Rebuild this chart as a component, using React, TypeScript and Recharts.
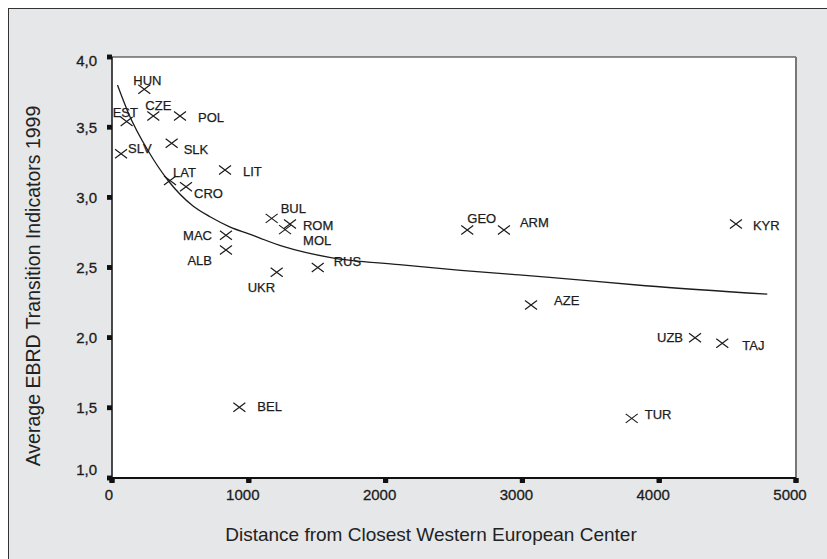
import React from "react"
import {
  ComposedChart,
  Scatter,
  Line,
  XAxis,
  YAxis,
  ReferenceArea,
  ReferenceLine,
} from "recharts"

// countries and their values
const countries = ["HUN", "EST", "CZE", "POL", "SLV", "SLK", "LIT", "LAT", "CRO", "BUL", "ROM", "MOL",
  "MAC", "ALB", "UKR", "RUS", "GEO", "ARM", "KYR", "AZE", "UZB", "TAJ", "TUR", "BEL"]
const distance = [236, 107, 302, 497, 66, 436, 826, 424, 541, 1167, 1301, 1265,
  833, 833, 1204, 1504, 2597, 2865, 4561, 3063, 4262, 4461, 3799, 931]
const ebrd = [3.77, 3.54, 3.58, 3.58, 3.31, 3.385, 3.195, 3.12, 3.076, 2.85, 2.81, 2.77,
  2.73, 2.625, 2.466, 2.5, 2.767, 2.767, 2.81, 2.233, 2.0, 1.96, 1.425, 1.504]

// fitted curve
const curveX = [40, 120, 265, 410, 590, 720, 860, 1000, 1250, 1600, 2100, 2550, 3200, 3900, 4790]
const curveY = [3.8, 3.6, 3.33, 3.12, 2.94, 2.86, 2.79, 2.74, 2.65, 2.57, 2.52, 2.48, 2.43, 2.37, 2.31]

const xTicks = [0, 1000, 2000, 3000, 4000, 5000]
const yTicks = [1, 1.5, 2, 2.5, 3, 3.5, 4]

// label placement next to each marker: dx, dy, anchor
const LABEL_POS: Record<string, [number, number, "start" | "end"]> = {
  HUN: [-11, -9, "start"],
  EST: [-14, -9, "start"],
  CZE: [-8, -10, "start"],
  POL: [18, 1.5, "start"],
  SLV: [7, -5, "start"],
  SLK: [12, 6, "start"],
  LIT: [18, 2, "start"],
  LAT: [3, -8, "start"],
  CRO: [8, 7, "start"],
  BUL: [9, -10, "start"],
  ROM: [13, 2, "start"],
  MOL: [18, 11, "start"],
  MAC: [-14, 0, "end"],
  ALB: [-14, 11, "end"],
  UKR: [-29, 15, "start"],
  RUS: [16, -6, "start"],
  GEO: [0, -12, "start"],
  ARM: [16, -8, "start"],
  KYR: [17, 2, "start"],
  AZE: [23, -4, "start"],
  UZB: [-12, 0, "end"],
  TAJ: [20, 2, "start"],
  TUR: [13, -4, "start"],
  BEL: [18, -1, "start"],
}

const points = countries.map((name, i) => ({ name, x: distance[i], y: ebrd[i] }))
const curve = curveX.map((x, i) => ({ x, y: curveY[i] }))

const FONT = "'Liberation Sans', Arial, Helvetica, sans-serif"
const INK = "#1c1c1c"
const W = 819
const H = 551
const PLOT_LEFT = 104
const PLOT_TOP = 49
const PLOT_RIGHT = 788
const PLOT_BOTTOM = 470

const fmt = (v: number) => v.toFixed(1).replace(".", ",")

function Cross(props: any) {
  const { cx, cy, payload } = props
  if (cx == null || cy == null) return null
  const [dx, dy, anchor] = LABEL_POS[payload.name] || [10, 0, "start"]
  return (
    <g>
      <path
        d={`M${cx - 6},${cy - 4.5}L${cx + 6},${cy + 4.5}M${cx - 6},${cy + 4.5}L${cx + 6},${cy - 4.5}`}
        stroke={INK}
        strokeWidth={1.2}
        fill="none"
      />
      <text
        x={cx + dx}
        y={cy + dy}
        textAnchor={anchor}
        dominantBaseline="central"
        fontFamily={FONT}
        fontSize={13}
        fill={INK}
        stroke={INK}
        strokeWidth={0.25}
      >
        {payload.name}
      </text>
    </g>
  )
}

function YTick(props: any) {
  const { y, payload } = props
  const v = payload.value
  const shift = v === 4 ? 3 : v === 1 ? -9 : 0
  return (
    <g>
      <rect x={PLOT_LEFT - 5} y={y - 2.25} width={5} height={4.5} fill="#111" />
      <text
        x={PLOT_LEFT - 15}
        y={y + shift}
        textAnchor="end"
        dominantBaseline="central"
        fontFamily={FONT}
        fontSize={15}
        fill={INK}
        stroke={INK}
        strokeWidth={0.3}
      >
        {fmt(v)}
      </text>
    </g>
  )
}

function XTick(props: any) {
  const { x, payload } = props
  const v = payload.value
  return (
    <g>
      <rect x={x - 2.5} y={PLOT_BOTTOM} width={5} height={4.5} fill="#111" />
      <text
        x={x - (v === 0 ? 3 : 6)}
        y={PLOT_BOTTOM + 16}
        textAnchor="middle"
        dominantBaseline="central"
        fontFamily={FONT}
        fontSize={15}
        fill={INK}
        stroke={INK}
        strokeWidth={0.3}
      >
        {v}
      </text>
    </g>
  )
}

export default function App() {
  return (
    <div
      style={{
        position: "fixed",
        left: 8,
        top: 8,
        width: W,
        height: H,
        background: "#e6e7e8",
        boxShadow: "inset 1px 1px 0 #333",
      }}
    >
      {/* white plot panel behind the chart svg */}
      <div
        style={{
          position: "absolute",
          left: PLOT_LEFT,
          top: PLOT_TOP,
          width: PLOT_RIGHT - PLOT_LEFT,
          height: PLOT_BOTTOM - PLOT_TOP,
          background: "#ffffff",
        }}
      />
      <ComposedChart width={W} height={H} margin={{ top: 49, right: 31, bottom: 0, left: 0 }}>
        <XAxis
          type="number"
          dataKey="x"
          domain={[0, 5000]}
          ticks={xTicks}
          height={81}
          tickSize={5}
          tickLine={{ stroke: "#111", strokeWidth: 5 }}
          tick={<XTick />}
          axisLine={{ stroke: "#111", strokeWidth: 2 }}
          allowDataOverflow
        />
        <YAxis
          type="number"
          dataKey="y"
          domain={[1, 4]}
          ticks={yTicks}
          width={104}
          tickSize={5}
          tickLine={{ stroke: "#111", strokeWidth: 4.5 }}
          tick={<YTick />}
          axisLine={{ stroke: "#111", strokeWidth: 1.5 }}
          allowDataOverflow
        />
        <ReferenceArea x1={0} x2={5000} y1={1} y2={4} fill="#ffffff" fillOpacity={1} stroke="none" />
        <ReferenceLine y={4} stroke="#222" strokeWidth={1} />
        <ReferenceLine x={5000} stroke="#777" strokeWidth={2} />
        <Line
          data={curve}
          dataKey="y"
          type="monotone"
          dot={false}
          stroke={INK}
          strokeWidth={1.3}
          isAnimationActive={false}
        />
        <Scatter data={points} dataKey="y" shape={<Cross />} isAnimationActive={false} />
      </ComposedChart>
      <svg
        width={W}
        height={H}
        style={{ position: "absolute", left: 0, top: 0, pointerEvents: "none" }}
      >
        <text x={423} y={533} textAnchor="middle" fontFamily={FONT} fontSize={19} fill="#222">
          Distance from Closest Western European Center
        </text>
        <text
          transform="translate(32,278) rotate(-90)"
          textAnchor="middle"
          fontFamily={FONT}
          fontSize={19.5}
          fill="#222"
        >
          Average EBRD Transition Indicators 1999
        </text>
      </svg>
    </div>
  )
}
